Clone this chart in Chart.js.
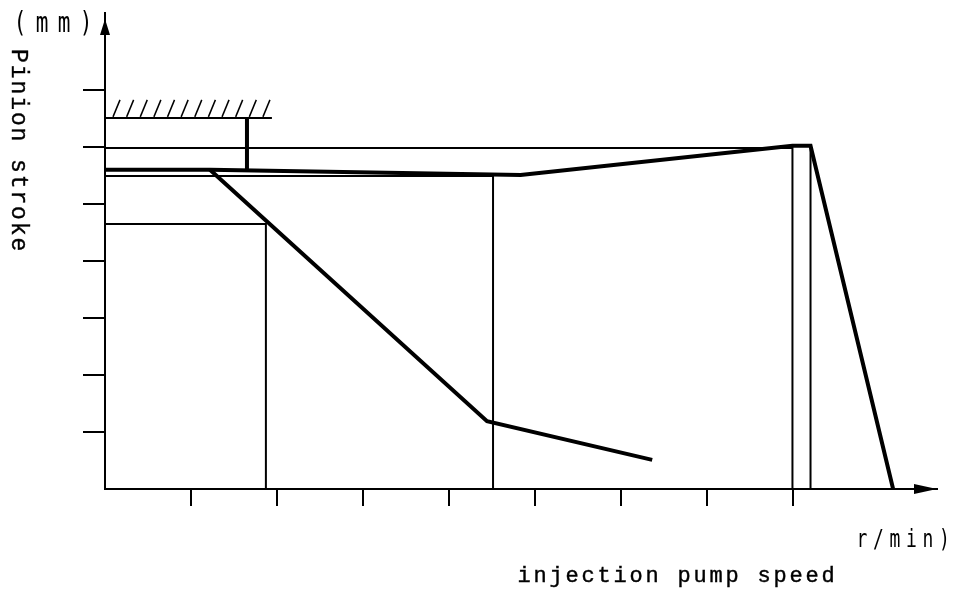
<!DOCTYPE html>
<html>
<head>
<meta charset="utf-8">
<script src="https://cdn.jsdelivr.net/npm/chart.js@4.4.1/dist/chart.umd.min.js"></script>
<style>
  html, body { margin: 0; padding: 0; background: #fff; }
  canvas { display: block; }
</style>
</head>
<body>
<canvas id="c" width="953" height="592"></canvas>
<script>
// Unlabelled tick marks on both axes (speed / stroke units)
const speedTicks = [1, 2, 3, 4, 5, 6, 7, 8];
const strokeTicks = [1, 2, 3, 4, 5, 6, 7];
const speedMax = 9.67;
const strokeMax = 8.35;

// Full-load curve with governor cut-off
const fullLoadSpeed  = [0, 1.22, 4.83, 7.99, 8.2, 9.16];
const fullLoadStroke = [5.6, 5.6, 5.51, 6.02, 6.02, 0];

// Start / idle curve branching off the full-load line
const idleSpeed  = [1.22, 4.44, 6.36];
const idleStroke = [5.6, 1.19, 0.51];

// Full-load stop and its stop rod
const stopSpeed  = [0, 1.94];
const stopStroke = [6.51, 6.51];
const rodSpeed   = [1.65, 1.65];
const rodStroke  = [6.51, 5.6];

// Thin construction lines
const guideASpeed  = [0, 1.87, 1.87];
const guideAStroke = [4.65, 4.65, 0];
const guideBSpeed  = [0, 4.51, 4.51];
const guideBStroke = [5.49, 5.49, 0];
const guideCSpeed  = [0, 7.99, 7.99];
const guideCStroke = [5.98, 5.98, 0];
const guideDSpeed  = [8.2, 8.2];
const guideDStroke = [6.02, 0];

function pts(xs, ys) { return xs.map((x, i) => ({ x: x, y: ys[i] })); }

function line(xs, ys, width) {
  return {
    data: pts(xs, ys),
    showLine: true,
    borderColor: '#000',
    borderWidth: width,
    pointRadius: 0,
    tension: 0,
    fill: false,
    clip: false,
    borderJoinStyle: 'miter',
    borderCapStyle: 'butt'
  };
}

// draw text one glyph at a time on a fixed pitch; weight thickens the outline
function pitched(ctx, text, x, y, step, scaleY, weight) {
  ctx.save();
  ctx.translate(x, y);
  ctx.scale(1, scaleY);
  ctx.textAlign = 'center';
  ctx.textBaseline = 'alphabetic';
  ctx.lineWidth = weight;
  for (let i = 0; i < text.length; i++) {
    ctx.fillText(text[i], i * step, 0);
    if (weight > 0) ctx.strokeText(text[i], i * step, 0);
  }
  ctx.restore();
}

const decorations = {
  id: 'decorations',
  afterDraw(chart) {
    const ctx = chart.ctx;
    const xs = chart.scales.x, ys = chart.scales.y;
    const area = chart.chartArea;
    ctx.save();
    ctx.fillStyle = '#000';
    ctx.strokeStyle = '#000';

    // arrow heads on the axes
    const ax = area.left;
    ctx.beginPath();
    ctx.moveTo(ax, area.top + 6);
    ctx.lineTo(ax + 5, area.top + 22);
    ctx.lineTo(ax - 5, area.top + 22);
    ctx.closePath();
    ctx.fill();
    const ay = area.bottom;
    ctx.beginPath();
    ctx.moveTo(area.right, ay);
    ctx.lineTo(area.right - 23, ay - 5);
    ctx.lineTo(area.right - 23, ay + 5);
    ctx.closePath();
    ctx.fill();

    // hatching above the stop line
    const hx0 = xs.getPixelForValue(stopSpeed[0]);
    const hx1 = xs.getPixelForValue(stopSpeed[1]);
    const hy = ys.getPixelForValue(stopStroke[0]);
    ctx.lineWidth = 1.5;
    const n = 12;
    const first = hx0 + 8, last = hx1 - 9;
    for (let i = 0; i < n; i++) {
      const bx = first + (last - first) * i / (n - 1);
      ctx.beginPath();
      ctx.moveTo(bx, hy - 1);
      ctx.lineTo(bx + 7, hy - 18);
      ctx.stroke();
    }

    // axis captions
    ctx.font = '21px "DejaVu Sans Mono"';
    pitched(ctx, '(mm)', 20, 32, 22, 1.35, 0);

    ctx.font = '23px "Liberation Mono"';
    ctx.save();
    ctx.translate(12, 56);
    ctx.rotate(Math.PI / 2);
    pitched(ctx, 'Pinion stroke', 0, 0, 15.7, 1, 0.4);
    ctx.restore();

    ctx.font = '18px "DejaVu Sans Mono"';
    pitched(ctx, 'r/min)', 862, 547, 16.5, 1.35, 0);

    ctx.font = '22px "Liberation Mono"';
    pitched(ctx, 'injection pump speed', 524, 582, 16, 1, 0.4);

    ctx.restore();
  }
};

const axisStyle = (tickLen) => ({
  display: true,
  drawOnChartArea: false,
  drawTicks: true,
  tickLength: tickLen,
  tickWidth: 2,
  tickColor: '#000',
  color: '#000',
  lineWidth: 2
});

new Chart(document.getElementById('c'), {
  type: 'scatter',
  data: {
    datasets: [
      line(guideASpeed, guideAStroke, 2),
      line(guideBSpeed, guideBStroke, 2),
      line(guideCSpeed, guideCStroke, 2),
      line(guideDSpeed, guideDStroke, 2),
      line(stopSpeed, stopStroke, 2),
      line(rodSpeed, rodStroke, 4),
      line(fullLoadSpeed, fullLoadStroke, 4),
      line(idleSpeed, idleStroke, 4)
    ]
  },
  options: {
    responsive: false,
    devicePixelRatio: 1,
    animation: false,
    layout: { padding: { left: 0, top: 13, right: 16, bottom: 0 } },
    plugins: { legend: { display: false }, tooltip: { enabled: false } },
    scales: {
      x: {
        type: 'linear',
        position: 'bottom',
        min: 0,
        max: speedMax,
        afterBuildTicks: s => { s.ticks = speedTicks.map(v => ({ value: v })); },
        afterFit: s => { s.height = 592 - 489; },
        ticks: { display: false },
        grid: axisStyle(17),
        border: { display: true, color: '#000', width: 2 }
      },
      y: {
        type: 'linear',
        position: 'left',
        min: 0,
        max: strokeMax,
        afterBuildTicks: s => { s.ticks = strokeTicks.map(v => ({ value: v })); },
        afterFit: s => { s.width = 105; },
        ticks: { display: false },
        grid: axisStyle(22),
        border: { display: true, color: '#000', width: 2 }
      }
    }
  },
  plugins: [decorations]
});
</script>
</body>
</html>
